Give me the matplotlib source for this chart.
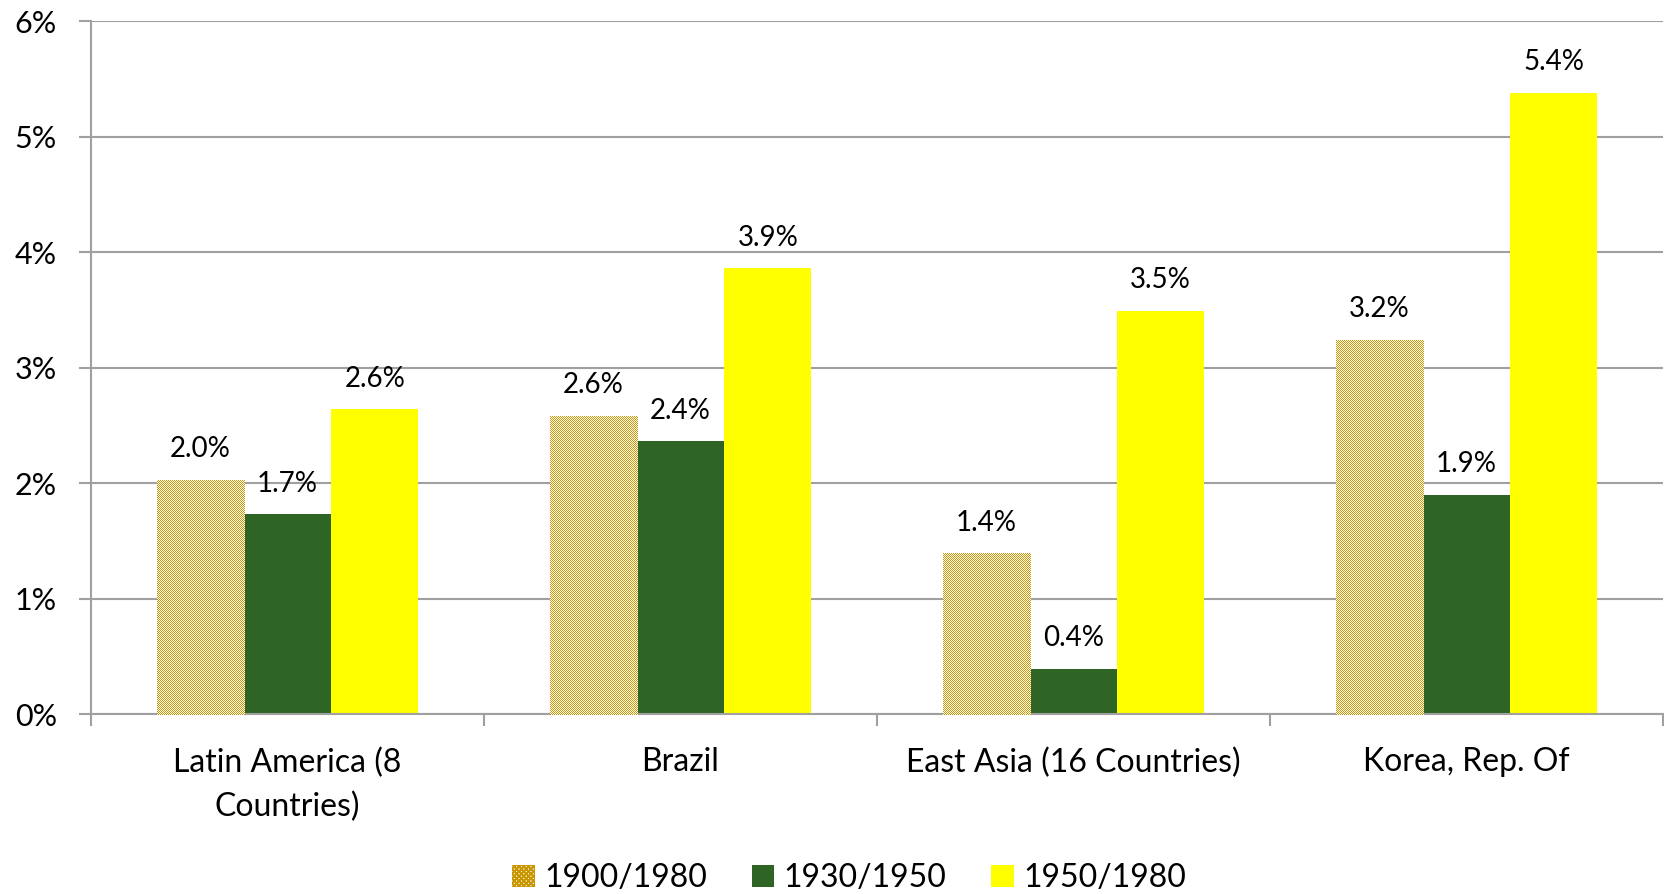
import numpy as np
import matplotlib
matplotlib.use("Agg")
import matplotlib.pyplot as plt
from matplotlib.patches import Patch

plt.rcParams["font.family"] = ["Lato", "DejaVu Sans"]
plt.rcParams["hatch.linewidth"] = 1.5

# growth rates (%) per region and period
categorias = ["Latin America (8\nCountries)", "Brazil", "East Asia (16 Countries)", "Korea, Rep. Of"]
periodos = ["1900/1980", "1930/1950", "1950/1980"]
v_1900_1980 = [2.03, 2.58, 1.39, 3.24]
v_1930_1950 = [1.73, 2.36, 0.39, 1.90]
v_1950_1980 = [2.64, 3.86, 3.49, 5.38]
yticks = [0, 1, 2, 3, 4, 5, 6]

OURO = "#C99600"
VERDE = "#2E6525"
AMARELO = "#FFFF00"
CINZA = "#A0A0A0"

fig = plt.figure(figsize=(16.65, 8.94), dpi=100)
ax = fig.add_axes([0.0547, 0.2013, 0.9441, 0.7752])

x = np.arange(len(categorias))
largura = 0.222

b1 = ax.bar(x - largura, v_1900_1980, largura, color="white", lw=0, zorder=2)
b2 = ax.bar(x, v_1930_1950, largura, color=VERDE, lw=0, zorder=2)
b3 = ax.bar(x + largura, v_1950_1980, largura, color=AMARELO, lw=0, zorder=2)

# checkered fill for the first series: a pixel-aligned figure image
# clipped to each bar, so every square is exactly one pixel
W, H = 1665, 894
ii, jj = np.indices((H, W))
xadrez = np.ones((H, W, 4))
xadrez[(ii + jj) % 2 == 0] = matplotlib.colors.to_rgba(OURO)
for barra in b1:
    im = fig.figimage(xadrez, xo=0, yo=0, origin="upper", zorder=1.5)
    im.set_clip_path(barra)

# value labels
for barras, vals in [(b1, v_1900_1980), (b2, v_1930_1950), (b3, v_1950_1980)]:
    for barra, v in zip(barras, vals):
        ax.annotate(f"{v:.1f}%", (barra.get_x() + barra.get_width() / 2, v),
                    xytext=(0, 22), textcoords="offset points",
                    ha="center", va="center", fontsize=20, zorder=4)

ax.set_xlim(-0.5, len(categorias) - 0.5)
ax.set_ylim(0, 6)
ax.set_yticks(yticks)
ax.set_yticklabels([f"{t}%" for t in yticks], fontsize=22)
ax.yaxis.grid(True, color=CINZA, lw=1.5, zorder=0)
ax.set_axisbelow(True)
ax.tick_params(axis="y", length=8.5, width=1.5, color=CINZA, pad=16)

ax.set_xticks(x)
ax.set_xticklabels(categorias, fontsize=23, linespacing=1.55)
ax.set_xticks(np.arange(len(categorias) + 1) - 0.5, minor=True)
ax.tick_params(axis="x", which="major", length=0, pad=24)
ax.tick_params(axis="x", which="minor", length=8.5, width=1.5, color=CINZA)
for lab in ax.get_xticklabels():
    lab.set_verticalalignment("top")

for lado in ["top", "right"]:
    ax.spines[lado].set_visible(False)
for lado in ["left", "bottom"]:
    ax.spines[lado].set_color(CINZA)
    ax.spines[lado].set_linewidth(1.5)

handles = [
    Patch(facecolor="white", edgecolor=OURO, hatch="xxxxxxx", lw=0),
    Patch(facecolor=VERDE, lw=0),
    Patch(facecolor=AMARELO, lw=0),
]
fig.legend(handles, periodos, loc="center", bbox_to_anchor=(0.51, 0.018),
           ncol=3, frameon=False, fontsize=23, handlelength=0.7,
           handleheight=0.7, handletextpad=0.3, columnspacing=1.4)

fig.savefig("out.png", dpi=100)
